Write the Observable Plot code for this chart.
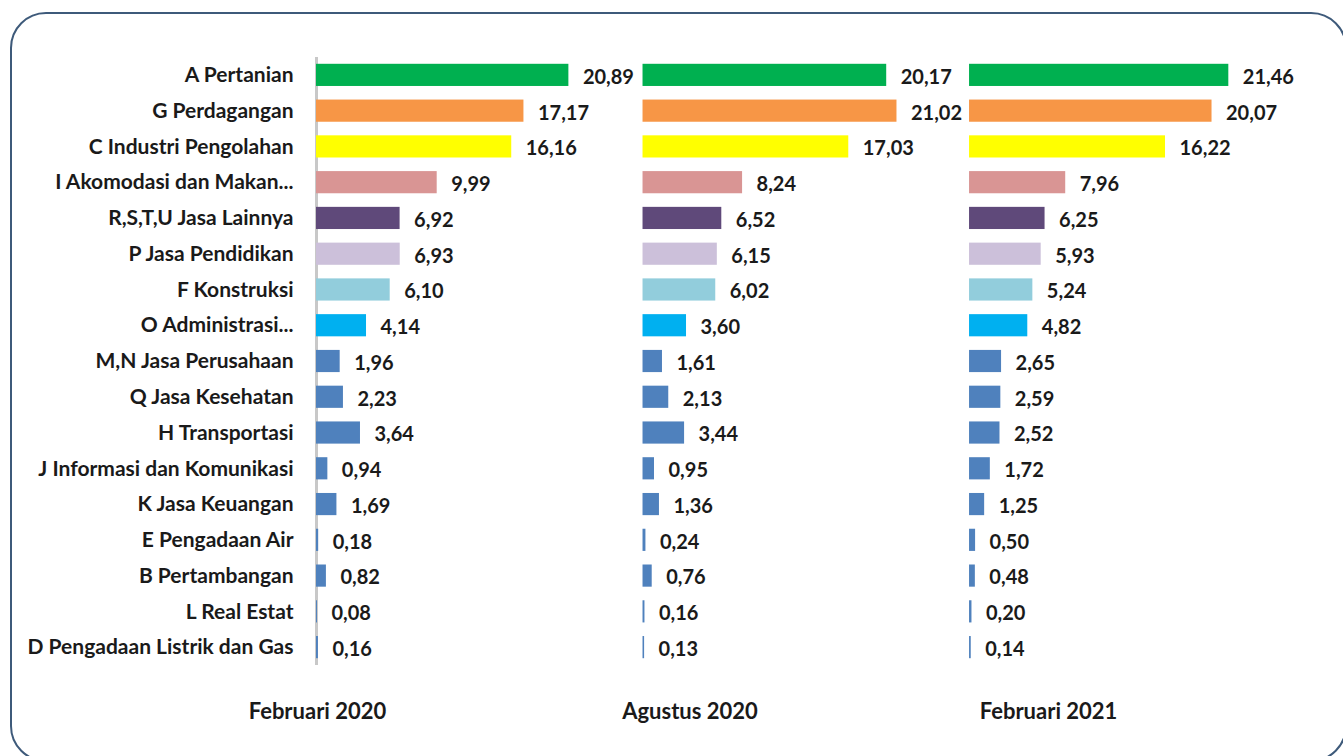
<!DOCTYPE html>
<html>
<head>
<meta charset="utf-8">
<script src="https://cdn.jsdelivr.net/npm/d3@7"></script>
<script src="https://cdn.jsdelivr.net/npm/@observablehq/plot@0.6"></script>
<style>
  html, body { margin: 0; padding: 0; background: #ffffff; overflow: hidden; }
  #wrap { position: relative; width: 1343px; height: 756px; overflow: hidden; }
  #frame { position: absolute; left: 10px; top: 12px; width: 1337px; height: 750px;
           border: 2px solid #3e5a7a; border-radius: 36px; box-sizing: border-box; }
  #chart { position: absolute; left: 0; top: 0; }
</style>
</head>
<body>
<div id="wrap">
  <div id="frame"></div>
  <div id="chart"></div>
</div>
<script>
const categories = [
  "A Pertanian", "G Perdagangan", "C Industri Pengolahan", "I Akomodasi dan Makan...",
  "R,S,T,U Jasa Lainnya", "P Jasa Pendidikan", "F Konstruksi", "O Administrasi...",
  "M,N Jasa Perusahaan", "Q Jasa Kesehatan", "H Transportasi", "J Informasi dan Komunikasi",
  "K Jasa Keuangan", "E Pengadaan Air", "B Pertambangan", "L Real Estat",
  "D Pengadaan Listrik dan Gas"
];
const periods = ["Februari 2020", "Agustus 2020", "Februari 2021"];
const feb2020 = [20.89, 17.17, 16.16, 9.99, 6.92, 6.93, 6.10, 4.14, 1.96, 2.23, 3.64, 0.94, 1.69, 0.18, 0.82, 0.08, 0.16];
const aug2020 = [20.17, 21.02, 17.03, 8.24, 6.52, 6.15, 6.02, 3.60, 1.61, 2.13, 3.44, 0.95, 1.36, 0.24, 0.76, 0.16, 0.13];
const feb2021 = [21.46, 20.07, 16.22, 7.96, 6.25, 5.93, 5.24, 4.82, 2.65, 2.59, 2.52, 1.72, 1.25, 0.50, 0.48, 0.20, 0.14];
const barColors = ["#00b050", "#f79646", "#ffff00", "#d99594", "#5f497a", "#ccc0da", "#92cddc", "#00b0f0",
  "#4f81bd", "#4f81bd", "#4f81bd", "#4f81bd", "#4f81bd", "#4f81bd", "#4f81bd", "#4f81bd", "#4f81bd"];

const series = [feb2020, aug2020, feb2021];
const data = [];
periods.forEach((p, pi) => {
  categories.forEach((c, ci) => {
    data.push({period: p, category: c, value: series[pi][ci], color: barColors[ci]});
  });
});
const fmt = v => v.toFixed(2).replace(".", ",");

// title offsets (style) relative to the panel's left edge
const titleOffsets = [1, 47, 79];
const titleMarks = periods.map((p, i) =>
  Plot.text([p], {
    fx: d => d, text: d => d, frameAnchor: "bottom-left", dx: titleOffsets[i], dy: 53,
    textAnchor: "middle", fontSize: 22, fontWeight: "bold", fill: "#1a1a1a"
  })
);

const chart = Plot.plot({
  width: 1343,
  height: 756,
  marginLeft: 316,
  marginRight: 84,
  marginTop: 57,
  marginBottom: 91,
  style: {fontFamily: "Lato, 'Open Sans', sans-serif", background: "transparent"},
  fx: {domain: periods, paddingInner: 0.112, paddingOuter: 0, round: false, axis: null},
  x: {domain: [0, 24], axis: null},
  y: {domain: categories, paddingInner: 0.38, paddingOuter: 0.19, round: false, label: null},
  marks: [
    Plot.ruleX([0], {fx: () => periods[0], stroke: "#c8c8c8", strokeWidth: 3}),
    Plot.barX(data, {fx: "period", y: "category", x: "value", fill: "color"}),
    Plot.text(data, {fx: "period", y: "category", x: "value", text: d => fmt(d.value),
      textAnchor: "start", dx: 14, dy: 2, fontSize: 20, fontWeight: "bold", fill: "#1a1a1a"}),
    Plot.axisY({tickSize: 0, tickPadding: 23, fontSize: 21, fontWeight: "bold", fill: "#1a1a1a", label: null}),
    ...titleMarks
  ]
});
document.getElementById("chart").appendChild(chart);
</script>
</body>
</html>
